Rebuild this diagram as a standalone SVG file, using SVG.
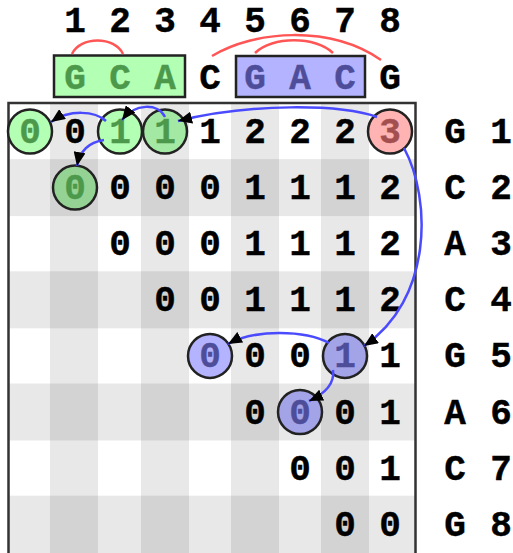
<svg xmlns="http://www.w3.org/2000/svg" width="513" height="553" viewBox="0 0 513 553">
  <defs>
    <style>
      text { font-family: "Liberation Mono", "DejaVu Sans Mono", monospace; font-weight: bold; font-size: 36px; text-anchor: middle; fill: #000; stroke: #000; stroke-width: 0.4; }
      .band { fill: #000; fill-opacity: 0.09; }
      .node circle { stroke: #222; stroke-width: 2.5; }
      .tg { fill: #4c994c; stroke: #4c994c; }
      .tb { fill: #4d4d9a; stroke: #4d4d9a; }
      .tr { fill: #a34f4f; stroke: #a34f4f; }
      .arc { fill: none; stroke: #ff5555; stroke-width: 2.5; }
      .arr { fill: none; stroke: #4a4aff; stroke-width: 2.5; marker-end: url(#ah); }
    </style>
    <marker id="ah" markerUnits="userSpaceOnUse" markerWidth="15" markerHeight="12" refX="14" refY="6" orient="auto">
      <path d="M0,0 L14,6 L0,12 Z" fill="#000"/>
    </marker>
  </defs>
  <rect width="513" height="553" fill="#fff"/>

  <!-- top numbering -->
  <g id="positions">
    <text x="75" y="32">1</text>
    <text x="120" y="32">2</text>
    <text x="165" y="32">3</text>
    <text x="210" y="32">4</text>
    <text x="255" y="32">5</text>
    <text x="300" y="32">6</text>
    <text x="345" y="32">7</text>
    <text x="390" y="32">8</text>
  </g>

  <!-- sequence -->
  <g id="seq-green">
    <rect x="54" y="55.5" width="131" height="41.5" fill="#b3ffb3" stroke="#222" stroke-width="2.5"/>
    <text class="tg" x="75" y="89">G</text>
    <text class="tg" x="120" y="89">C</text>
    <text class="tg" x="165" y="89">A</text>
  </g>
  <g id="seq-c4"><text x="210" y="89">C</text></g>
  <g id="seq-blue">
    <rect x="236" y="56" width="129" height="41" fill="#b3b3ff" stroke="#222" stroke-width="2.5"/>
    <text class="tb" x="255" y="89">G</text>
    <text class="tb" x="300" y="89">A</text>
    <text class="tb" x="345" y="89">C</text>
  </g>
  <g id="seq-g8"><text x="390" y="89">G</text></g>

  <!-- pairing arcs -->
  <g id="pairs">
    <path class="arc" d="M72,54 C80,36 115,36 123,54"/>
    <path class="arc" d="M212,56 C255,30 330,25 381,60"/>
    <path class="arc" d="M255,53 C272,36 316,36 333,53"/>
  </g>

  <!-- matrix background -->
  <g id="grid">
    <rect class="band" x="8" y="159.1" width="407" height="57"/>
    <rect class="band" x="8" y="271.3" width="407" height="57"/>
    <rect class="band" x="8" y="383.5" width="407" height="57"/>
    <rect class="band" x="8" y="495.7" width="407" height="60"/>
    <rect class="band" x="50" y="103" width="48" height="452"/>
    <rect class="band" x="141" y="103" width="48" height="452"/>
    <rect class="band" x="231" y="103" width="48" height="452"/>
    <rect class="band" x="321" y="103" width="48" height="452"/>
    <rect x="8.5" y="103" width="407" height="470" fill="none" stroke="#333" stroke-width="2.5"/>
  </g>

  <!-- plain matrix values -->
  <g id="values">
    <text x="75" y="143">0</text>
    <text x="210" y="143">1</text>
    <text x="255" y="143">2</text>
    <text x="300" y="143">2</text>
    <text x="345" y="143">2</text>

    <text x="120" y="199.1">0</text>
    <text x="165" y="199.1">0</text>
    <text x="210" y="199.1">0</text>
    <text x="255" y="199.1">1</text>
    <text x="300" y="199.1">1</text>
    <text x="345" y="199.1">1</text>
    <text x="390" y="199.1">2</text>

    <text x="120" y="255.2">0</text>
    <text x="165" y="255.2">0</text>
    <text x="210" y="255.2">0</text>
    <text x="255" y="255.2">1</text>
    <text x="300" y="255.2">1</text>
    <text x="345" y="255.2">1</text>
    <text x="390" y="255.2">2</text>

    <text x="165" y="311.3">0</text>
    <text x="210" y="311.3">0</text>
    <text x="255" y="311.3">1</text>
    <text x="300" y="311.3">1</text>
    <text x="345" y="311.3">1</text>
    <text x="390" y="311.3">2</text>

    <text x="255" y="367.4">0</text>
    <text x="300" y="367.4">0</text>
    <text x="390" y="367.4">1</text>

    <text x="255" y="423.5">0</text>
    <text x="345" y="423.5">0</text>
    <text x="390" y="423.5">1</text>

    <text x="300" y="479.6">0</text>
    <text x="345" y="479.6">0</text>
    <text x="390" y="479.6">1</text>

    <text x="345" y="535.7">0</text>
    <text x="390" y="535.7">0</text>
  </g>

  <!-- highlighted nodes -->
  <g id="n-1-0" class="node"><circle cx="30" cy="131.5" r="22" fill="#b3ffb3"/><text class="tg" x="30" y="143">0</text></g>
  <g id="n-1-2" class="node"><circle cx="120" cy="131.5" r="22" fill="#b3ffb3"/><text class="tg" x="120" y="143">1</text></g>
  <g id="n-1-3" class="node"><circle cx="165" cy="131.5" r="22" fill="#a3e8a3"/><text class="tg" x="165" y="143">1</text></g>
  <g id="n-2-1" class="node"><circle cx="75" cy="187.6" r="22" fill="#94d394"/><text class="tg" x="75" y="199.1">0</text></g>
  <g id="n-1-8" class="node"><circle cx="390" cy="131.5" r="22" fill="#ffb3b3"/><text class="tr" x="390" y="143">3</text></g>
  <g id="n-5-7" class="node"><circle cx="345" cy="355.9" r="22" fill="#a3a3e8"/><text class="tb" x="345" y="367.4">1</text></g>
  <g id="n-5-4" class="node"><circle cx="210" cy="355.9" r="22" fill="#b3b3ff"/><text class="tb" x="210" y="367.4">0</text></g>
  <g id="n-6-6" class="node"><circle cx="300" cy="412" r="22" fill="#a3a3e8"/><text class="tb" x="300" y="423.5">0</text></g>

  <!-- traceback connectors -->
  <g id="connectors">
    <path class="arr" d="M377,117 C340,104 250,103 178,121"/>
    <path class="arr" d="M165,117 C158,103 135,103 122,120"/>
    <path class="arr" d="M106,121 C95,111 70,109 51,122"/>
    <path class="arr" d="M104,140 C90,142 80,150 77,166"/>
    <path class="arr" d="M404,148 C432,200 432,300 364,346"/>
    <path class="arr" d="M329,343 C305,330 255,329 228,344"/>
    <path class="arr" d="M333,370 C335,385 322,395 309,401"/>
  </g>

  <!-- row labels -->
  <g id="row-labels">
    <text x="455" y="143">G</text><text x="501" y="143">1</text>
    <text x="455" y="199.1">C</text><text x="501" y="199.1">2</text>
    <text x="455" y="255.2">A</text><text x="501" y="255.2">3</text>
    <text x="455" y="311.3">C</text><text x="501" y="311.3">4</text>
    <text x="455" y="367.4">G</text><text x="501" y="367.4">5</text>
    <text x="455" y="423.5">A</text><text x="501" y="423.5">6</text>
    <text x="455" y="479.6">C</text><text x="501" y="479.6">7</text>
    <text x="455" y="535.7">G</text><text x="501" y="535.7">8</text>
  </g>
</svg>
